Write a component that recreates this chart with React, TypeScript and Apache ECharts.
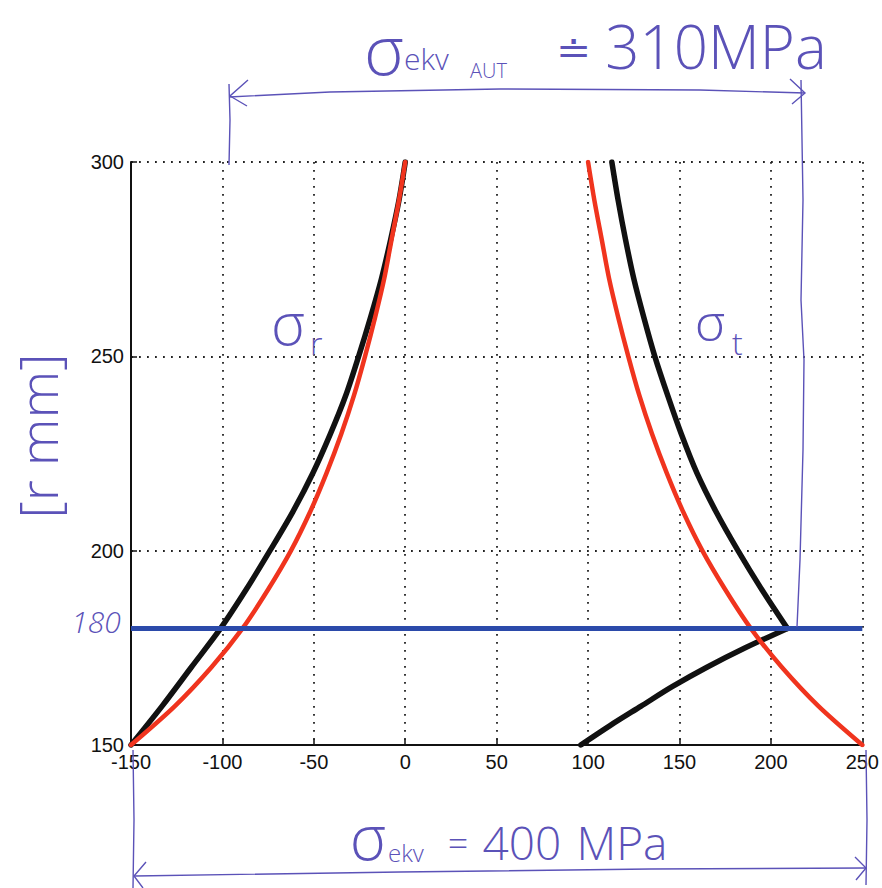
import React, { useEffect, useRef } from "react";
import * as echarts from "echarts";

// stress axis (MPa) and radius axis (mm)
const xMin = -150;
const xMax = 250;
const xStep = 50;
const yMin = 150;
const yMax = 300;
const yStep = 50;

// red curves
const radii = [150, 160, 170, 180, 190, 200, 210, 220, 230, 240, 250, 260, 270, 280, 290, 300];
const redRadial = [-150, -126, -106, -89, -75, -62.5, -52, -43, -35, -28, -22, -16.5, -11.5, -7.5, -3.5, 0];
const redTangential = [250, 226, 206, 189, 175, 162.5, 152, 143, 135, 128, 122, 116.5, 111.5, 107.5, 103.5, 100];

// black curves
const blackRadial = [-150, -133, -117, -101, -87, -74, -61.5, -50.5, -41, -32.5, -25.5, -19, -13, -8, -3.5, 0];
const innerRadii = [150, 155, 160, 165, 170, 175, 180];
const blackTangentialInner = [96, 112, 129, 146, 165, 186, 209];
const outerRadii = [180, 190, 200, 210, 220, 230, 240, 250, 260, 270, 280, 290, 300];
const blackTangentialOuter = [209, 195, 182, 170, 159.5, 151, 143.5, 136.5, 130.5, 125, 120.5, 116.5, 113];

// interface radius (blue line)
const interfaceRadius = 180;
const interfaceLine = [xMin, xMax];

const PEN = "#5b52b8";
const HAND = "'Open Sans', 'Noto Sans', sans-serif";

function pts(xs: number[], ys: number[]) {
  return xs.map((x, i) => [x, ys[i]]);
}

function txt(x: number, y: number, text: string, size: number, extra: any = {}) {
  return {
    type: "text",
    x,
    y,
    style: {
      text,
      fill: PEN,
      fontSize: size,
      fontFamily: HAND,
      fontWeight: 300,
      align: "center",
      verticalAlign: "middle",
      ...extra,
    },
    z: 10,
  };
}

function pl(points: number[][], w = 1.4) {
  return {
    type: "polyline",
    shape: { points },
    style: { stroke: PEN, lineWidth: w, fill: null },
    z: 10,
  };
}

function curve(name: string, data: number[][], color: string, width: number, z: number) {
  return {
    name,
    type: "line",
    data,
    symbol: "none",
    smooth: 0.3,
    lineStyle: { color, width, cap: "round", join: "round" },
    z,
  };
}

export default function App() {
  const ref = useRef<HTMLDivElement>(null);
  useEffect(() => {
    document.body.style.margin = "0";
    const chart = echarts.init(ref.current!, null, { renderer: "svg" });
    const axisLabel = {
      color: "#111",
      fontSize: 20,
      fontFamily: "'Liberation Sans', Arial, sans-serif",
    };
    const splitLine = {
      show: true,
      showMinLine: false,
      lineStyle: { color: "#222", width: 1.8, type: [1.8, 6.2] },
    };
    chart.setOption({
      animation: false,
      backgroundColor: "#ffffff",
      grid: { left: 131, right: 13, top: 162, bottom: 143 },
      xAxis: {
        type: "value",
        min: xMin,
        max: xMax,
        interval: xStep,
        axisLine: { show: true, onZero: false, lineStyle: { color: "#111", width: 2 } },
        axisTick: { show: true, inside: true, length: 6, lineStyle: { color: "#111", width: 1.5 } },
        axisLabel: { ...axisLabel, margin: 7 },
        splitLine,
      },
      yAxis: {
        type: "value",
        min: yMin,
        max: yMax,
        interval: yStep,
        axisLine: { show: true, onZero: false, lineStyle: { color: "#111", width: 2 } },
        axisTick: { show: true, inside: true, length: 6, lineStyle: { color: "#111", width: 1.5 } },
        axisLabel: { ...axisLabel, margin: 7 },
        splitLine,
      },
      series: [
        curve("black radial", pts(blackRadial, radii), "#111111", 5.5, 2),
        curve("black tangential inner", pts(blackTangentialInner, innerRadii), "#111111", 5.5, 2),
        curve("black tangential outer", pts(blackTangentialOuter, outerRadii), "#111111", 5.5, 2),
        curve("red radial", pts(redRadial, radii), "#f0341e", 4.5, 3),
        curve("red tangential", pts(redTangential, radii), "#f0341e", 4.5, 3),
        {
          name: "interface",
          type: "line",
          data: interfaceLine.map((x) => [x, interfaceRadius]),
          symbol: "none",
          lineStyle: { color: "#2b4aaa", width: 5 },
          z: 4,
        },
      ],
      graphic: [
        // top annotation
        txt(384, 48, "σ", 68),
        txt(404, 58, "ekv", 30, { align: "left" }),
        txt(470, 70, "AUT", 20, { align: "left" }),
        txt(573, 48, "≐", 42),
        txt(716, 46, "310MPa", 60),
        pl([[229, 97], [330, 92], [500, 89], [700, 90], [805, 93]]),
        pl([[248, 80], [230, 96], [247, 106]]),
        pl([[790, 79], [805, 93], [792, 104]]),
        pl([[229, 84], [230, 120], [229, 165]]),
        pl([[801, 80], [803, 200], [801, 300], [804, 360], [803, 450], [800, 560], [797, 627]]),
        // bottom annotation
        txt(368, 836, "σ", 62),
        txt(388, 852, "ekv", 24, { align: "left" }),
        txt(458, 843, "=", 36),
        txt(522, 842, "400", 46),
        txt(622, 842, "MPa", 46),
        pl([[133, 750], [134, 820], [133, 888]]),
        pl([[866, 750], [867, 820], [866, 885]]),
        pl([[135, 876], [400, 872], [650, 869], [866, 868]]),
        pl([[146, 862], [134, 876], [143, 888]]),
        pl([[855, 857], [866, 868], [856, 880]]),
        // curve labels
        txt(288, 322, "σ", 58),
        txt(310, 342, "r", 32, { align: "left" }),
        txt(710, 320, "σ", 52),
        txt(732, 342, "t", 32, { align: "left" }),
        // axis annotations
        txt(96, 621, "180", 30, { fontStyle: "italic" }),
        { ...txt(37, 436, "[r mm]", 54), rotation: Math.PI / 2 },
      ],
    });
    return () => chart.dispose();
  }, []);
  return <div ref={ref} style={{ width: 882, height: 888 }} />;
}
